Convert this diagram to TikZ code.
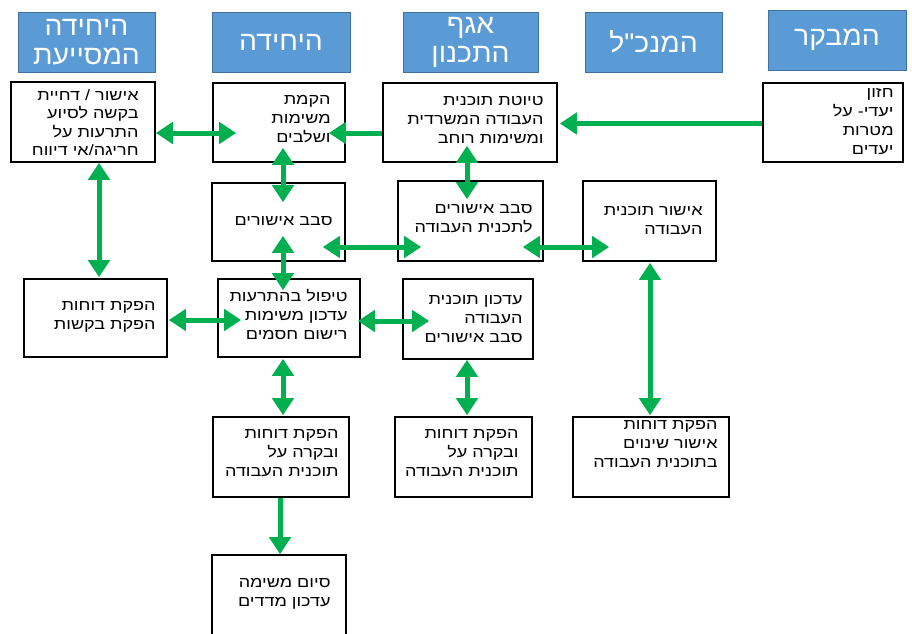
\documentclass[tikz,border=0pt]{standalone}
\usepackage{fontspec}
\usetikzlibrary{arrows.meta,calc}
\TeXXeTstate=1
\newfontfamily\hebfont[Script=Hebrew,FakeStretch=1.2]{Liberation Sans}
\newfontfamily\hebhead[Script=Hebrew,FakeStretch=1.05]{Liberation Sans}
\newcommand{\hebline}[1]{\beginR #1\endR}
\definecolor{hdrfill}{HTML}{5B9BD5}
\definecolor{hdrline}{HTML}{41719C}
\definecolor{arrgreen}{HTML}{00B050}
\begin{document}
\begin{tikzpicture}[x=1pt,y=-1pt,
  hdr/.style={draw=hdrline, line width=1pt, fill=hdrfill, text=white,
    font=\hebhead\fontsize{27}{29}\selectfont, align=center, inner sep=0pt,
    minimum height=60},
  bx/.style={draw=black, line width=1.6pt, fill=white, inner sep=0pt},
  txt/.style={font=\hebfont\fontsize{15}{19}\selectfont, align=right,
    inner sep=0pt, text width=150, anchor=base east},
  arr/.style={draw=arrgreen, line width=5pt,
    {Triangle[length=17pt,width=21pt]}-{Triangle[length=17pt,width=21pt]}},
  arrone/.style={draw=arrgreen, line width=5pt, -{Triangle[length=17pt,width=21pt]}}]
\useasboundingbox[fill=white] (0,0) rectangle (912,633);

% headers
\node[hdr, minimum width=137] (h1) at (86.5,42) {\hebline{היחידה}\\\hebline{המסייעת}};
\node[hdr, minimum width=138] (h2) at (281,42) {\hebline{היחידה}};
\node[hdr, minimum width=135] (h3) at (470.5,42) {\hebline{אגף}\\\hebline{התכנון}};
\node[hdr, minimum width=137] (h4) at (653.5,42) {\hebline{המנכ"ל}};
\node[hdr, minimum width=138] (h5) at (837,40) {\hebline{המבקר}};

% boxes
\node[bx, minimum width=144, minimum height=80] (b1) at (83,122) {};
\node[bx, minimum width=132, minimum height=79] (b2) at (279,122.5) {};
\node[bx, minimum width=174, minimum height=79] (b3) at (470,122.5) {};
\node[bx, minimum width=140, minimum height=79] (b4) at (833,122.5) {};
\node[bx, minimum width=133, minimum height=78] (b5) at (278.5,222) {};
\node[bx, minimum width=145, minimum height=80] (b6) at (470.5,221) {};
\node[bx, minimum width=133, minimum height=80] (b7) at (649.5,221) {};
\node[bx, minimum width=143, minimum height=78] (b8) at (95.5,318) {};
\node[bx, minimum width=142, minimum height=78] (b9) at (289,318) {};
\node[bx, minimum width=130, minimum height=80] (b10) at (468,319) {};
\node[bx, minimum width=136, minimum height=80] (b11) at (281,457) {};
\node[bx, minimum width=137, minimum height=80] (b12) at (463.5,457) {};
\node[bx, minimum width=156, minimum height=80] (b13) at (651,457) {};
\node[bx, minimum width=134, minimum height=100] (b14) at (279,605) {};

% texts
\node[txt, font=\hebfont\fontsize{15}{18.5}\selectfont] (t1) at ($(b1.north east)+(-17,19)$)
  {\hebline{אישור / דחיית}\\\hebline{בקשה לסיוע}\\\hebline{התרעות על}\\\hebline{חריגה/אי דיווח}};
\node[txt] (t2) at ($(b2.north east)+(-15,22)$)
  {\hebline{הקמת}\\\hebline{משימות}\\\hebline{ושלבים}};
\node[txt] (t3) at ($(b3.north east)+(-14,23)$)
  {\hebline{טיוטת תוכנית}\\\hebline{העבודה המשרדית}\\\hebline{ומשימות רוחב}};
\node[txt] (t4) at ($(b4.north east)+(-10,15)$)
  {\hebline{חזון}\\\hebline{יעדי- על}\\\hebline{מטרות}\\\hebline{יעדים}};
\node[txt] (t5) at ($(b5.north east)+(-13,43)$)
  {\hebline{סבב אישורים}};
\node[txt] (t6) at ($(b6.north east)+(-11,33)$)
  {\hebline{סבב אישורים}\\\hebline{לתכנית העבודה}};
\node[txt] (t7) at ($(b7.north east)+(-14,35)$)
  {\hebline{אישור תוכנית}\\\hebline{העבודה}};
\node[txt] (t8) at ($(b8.north east)+(-12,32)$)
  {\hebline{הפקת דוחות}\\\hebline{הפקת בקשות}};
\node[txt] (t9) at ($(b9.north east)+(-13,23)$)
  {\hebline{טיפול בהתרעות}\\\hebline{עדכון משימות}\\\hebline{רישום חסמים}};
\node[txt] (t10) at ($(b10.north east)+(-11,26)$)
  {\hebline{עדכון תוכנית}\\\hebline{העבודה}\\\hebline{סבב אישורים}};
\node[txt] (t11) at ($(b11.north east)+(-11,22)$)
  {\hebline{הפקת דוחות}\\\hebline{ובקרה על}\\\hebline{תוכנית העבודה}};
\node[txt] (t12) at ($(b12.north east)+(-14,22)$)
  {\hebline{הפקת דוחות}\\\hebline{ובקרה על}\\\hebline{תוכנית העבודה}};
\node[txt] (t13) at ($(b13.north east)+(-12,13)$)
  {\hebline{הפקת דוחות}\\\hebline{אישור שינוים}\\\hebline{בתוכנית העבודה}};
\node[txt] (t14) at ($(b14.north east)+(-16,33)$)
  {\hebline{סיום משימה}\\\hebline{עדכון מדדים}};

% connectors
\draw[arr] ($(b1.east)+(0,11)$) -- ($(b2.west)+(24,10.5)$);
\draw[arrone] ($(b3.west)+(0,10.5)$) -- ($(b2.east)+(-17,10.5)$);
\draw[arrone] ($(b4.west)+(0,1)$) -- ($(b3.east)+(2,1)$);
\draw[arr] ($(b2.south)+(4,-15)$) -- ($(b5.north)+(4.5,20)$);
\draw[arr] ($(b3.south)+(-3,-17)$) -- ($(b6.north)+(-3.5,19)$);
\draw[arr] ($(b1.south)+(16,0)$) -- ($(b8.north)+(3.5,-1)$);
\draw[arr] ($(b5.east)+(-23,25)$) -- ($(b6.west)+(24,26)$);
\draw[arr] ($(b6.east)+(-21,26)$) -- ($(b7.west)+(27,26)$);
\draw[arr] ($(b5.south)+(4.5,-26)$) -- ($(b9.north)+(-6,12)$);
\draw[arr] ($(b8.east)+(1,2)$) -- ($(b9.west)+(24,2)$);
\draw[arr] ($(b9.east)+(-3,3)$) -- ($(b10.west)+(27,2)$);
\draw[arr] ($(b7.south)+(0.5,1)$) -- ($(b13.north)+(-1,-1)$);
\draw[arr] ($(b9.south)+(-6,1)$) -- ($(b11.north)+(2,-1)$);
\draw[arr] ($(b10.south)+(-1,0)$) -- ($(b12.north)+(3.5,-1)$);
\draw[arrone] ($(b11.south)+(-1,0)$) -- ($(b14.north)+(1,0)$);
\end{tikzpicture}
\end{document}
